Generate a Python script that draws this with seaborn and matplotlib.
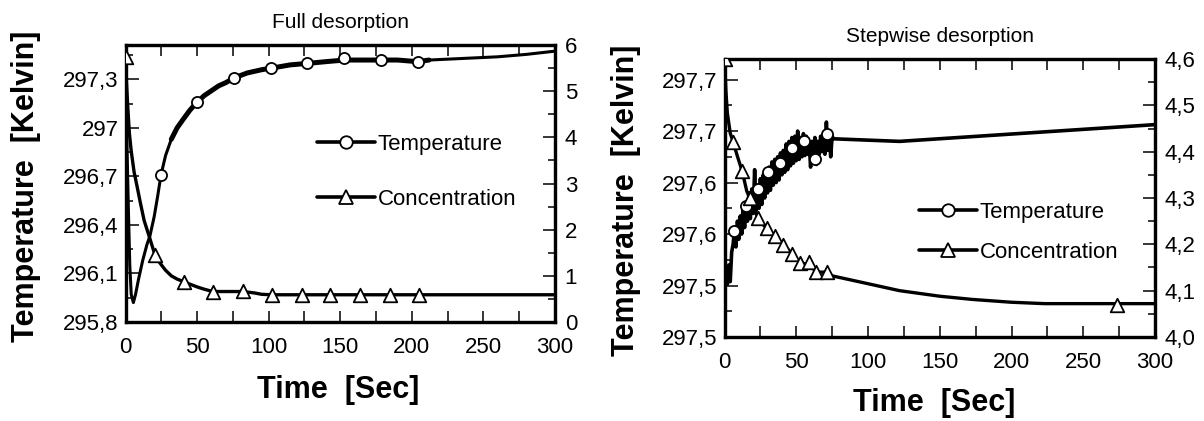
import matplotlib
matplotlib.use("Agg")
import matplotlib.pyplot as plt
from matplotlib.lines import Line2D
from matplotlib.ticker import MultipleLocator, FixedLocator
import seaborn as sns

# ---- Full desorption ----
full_t = [0, 1, 2, 3, 4, 5.5, 7, 9, 12, 15, 17, 20, 22.5, 24.8, 28, 32, 36, 40, 45, 50,
          55, 60, 65, 70, 76, 85, 95, 102, 115, 128, 140, 153, 165, 179, 190, 204, 212,
          260, 280, 300]
full_temp = [297.2, 296.9, 296.5, 296.15, 295.97, 295.92, 295.97, 296.06, 296.18, 296.28,
             296.33, 296.45, 296.58, 296.71, 296.83, 296.93, 297.0, 297.05, 297.11, 297.16,
             297.2, 297.23, 297.26, 297.28, 297.31, 297.34, 297.36, 297.37, 297.39, 297.40,
             297.41, 297.42, 297.42, 297.42, 297.42, 297.41, 297.42,
             297.44, 297.455, 297.475]
full_conc_t = [0, 0.5, 1.5, 2.7, 4, 6, 8, 10, 13, 17, 20.6, 24, 28, 32, 36, 41, 45, 50, 55,
               61, 70, 82, 90, 95, 102, 300]
full_conc = [5.72, 5.3, 4.7, 4.09, 3.7, 3.25, 2.95, 2.64, 2.2, 1.81, 1.45, 1.28, 1.12, 1.0,
             0.93, 0.87, 0.82, 0.76, 0.71, 0.66, 0.66, 0.66, 0.63, 0.6, 0.59, 0.59]
full_temp_mark_t = [24.8, 49.6, 75.8, 101.8, 127, 152.7, 178.7, 204.4]
full_temp_mark = [296.71, 297.16, 297.31, 297.37, 297.40, 297.43, 297.42, 297.41]
full_conc_mark_t = [0, 20.6, 41, 61, 82, 102, 123, 143, 164, 185, 205]
full_conc_mark = [5.74, 1.45, 0.87, 0.66, 0.67, 0.58, 0.58, 0.58, 0.58, 0.58, 0.58]
full_ticks = [295.8, 296.1, 296.4, 296.7, 297.0, 297.3]
full_ticklabels = ["295,8", "296,1", "296,4", "296,7", "297", "297,3"]

# ---- Stepwise desorption ----
step_t = list(range(0, 77)) + [122, 300]
step_temp = [297.560, 297.548, 297.541, 297.556, 297.543, 297.566, 297.572, 297.584,
             297.570, 297.590, 297.576, 297.594, 297.580, 297.603, 297.585, 297.604,
             297.590, 297.612, 297.592, 297.615, 297.596, 297.630, 297.598, 297.618,
             297.600, 297.623, 297.603, 297.626, 297.608, 297.630, 297.612, 297.632,
             297.614, 297.636, 297.618, 297.638, 297.620, 297.640, 297.622, 297.643,
             297.626, 297.645, 297.628, 297.650, 297.630, 297.652, 297.633, 297.655,
             297.635, 297.656, 297.637, 297.660, 297.638, 297.655, 297.640, 297.658,
             297.641, 297.656, 297.642, 297.650, 297.632, 297.652, 297.640, 297.655,
             297.634, 297.652, 297.642, 297.656, 297.644, 297.658, 297.642, 297.667,
             297.645, 297.658, 297.640, 297.656, 297.654,
             297.652, 297.665]
step_conc_t = [0, 1, 2, 4, 6.1, 9, 12.3, 15.5, 17.6, 20, 23, 26, 29.4, 32, 35.5, 38, 40.9,
               44, 46.8, 50, 52.4, 55, 58.8, 61, 64.1, 68, 71.6, 75, 100, 122, 150, 173,
               200, 223, 300]
step_conc = [4.6, 4.53, 4.483, 4.44, 4.42, 4.39, 4.358, 4.315, 4.30, 4.28, 4.259, 4.245,
             4.235, 4.225, 4.217, 4.208, 4.199, 4.19, 4.18, 4.17, 4.16, 4.158, 4.158, 4.15,
             4.14, 4.14, 4.14, 4.132, 4.115, 4.10, 4.088, 4.081, 4.075, 4.072, 4.072]
step_temp_mark_t = [6.9, 15.3, 23, 30.6, 38.7, 46.8, 55.5, 63.3, 71.4]
step_temp_mark = [297.582, 297.602, 297.615, 297.628, 297.635, 297.647, 297.652, 297.638,
                  297.658]
step_conc_mark_t = [0, 6.1, 12.3, 17.8, 23.3, 29.4, 35.5, 40.9, 46.8, 52.4, 58.8, 64.1,
                    71.6, 273.3]
step_conc_mark = [4.6, 4.42, 4.358, 4.30, 4.257, 4.235, 4.217, 4.199, 4.18, 4.16, 4.161,
                  4.14, 4.14, 4.07]
step_ticks = [297.50, 297.54, 297.58, 297.62, 297.66, 297.70]
step_ticklabels = ["297,5", "297,5", "297,6", "297,6", "297,7", "297,7"]
conc_ticks = [4.0, 4.1, 4.2, 4.3, 4.4, 4.5, 4.6]
conc_ticklabels = ["4,0", "4,1", "4,2", "4,3", "4,4", "4,5", "4,6"]

sns.set_theme(style="ticks")
plt.rcParams["font.family"] = ["Liberation Sans", "DejaVu Sans"]
plt.rcParams["text.color"] = "black"
plt.rcParams["axes.labelcolor"] = "black"
plt.rcParams["xtick.color"] = "black"
plt.rcParams["ytick.color"] = "black"

fig = plt.figure(figsize=(12.04, 4.21), dpi=100)
ax_a = fig.add_axes([125.5 / 1204, 1 - 322 / 421, 429.5 / 1204, 277 / 421])
ax_b = fig.add_axes([724.5 / 1204, 1 - 337 / 421, 430.5 / 1204, 278 / 421])

TICK = 16


def style_axes(ax, ax2):
    for a in (ax, ax2):
        for s in a.spines.values():
            s.set_linewidth(2.3)
            s.set_color("black")
    ax.set_xlim(0, 300)
    ax.xaxis.set_major_locator(MultipleLocator(50))
    ax.xaxis.set_minor_locator(MultipleLocator(25))
    ax.tick_params(axis="x", which="both", direction="in", top=True, length=8, width=1.1,
                   labelsize=TICK, pad=11, color="black", labelcolor="black")
    ax.tick_params(axis="y", which="major", direction="in", length=9, width=1.1,
                   labelsize=TICK, pad=5, color="black", labelcolor="black")
    ax.tick_params(axis="y", which="minor", direction="in", length=5, width=1.1,
                   color="black")
    ax2.tick_params(axis="y", which="major", direction="in", length=9, width=1.1,
                    labelsize=TICK, pad=7, color="black", labelcolor="black")
    ax2.tick_params(axis="y", which="minor", direction="in", length=5, width=1.1,
                    color="black")
    ax.set_xlabel("Time  [Sec]", fontsize=22, fontweight="bold", color="black")
    ax.set_ylabel("Temperature  [Kelvin]", fontsize=22, fontweight="bold", color="black")
    ax.xaxis.label.set_va("center")
    ax.yaxis.label.set_va("center")
    ax2.set_ylabel("")
    ax.set_facecolor("white")


def draw_legend(ax, x, y, spacing):
    handles = [
        Line2D([], [], color="black", lw=2.6, marker="o", ms=9, mfc="white",
               mec="black", mew=1.3),
        Line2D([], [], color="black", lw=2.6, marker="^", ms=10, mfc="white",
               mec="black", mew=1.3),
    ]
    ax.legend(handles, ["Temperature", "Concentration"], loc="center left",
              bbox_to_anchor=(x, y), frameon=False, fontsize=16, handlelength=2.6,
              handletextpad=0.12, labelspacing=spacing, borderpad=0, borderaxespad=0,
              labelcolor="black")


# ---- left panel ----
ax_a2 = ax_a.twinx()
sns.lineplot(x=full_t, y=full_temp, ax=ax_a, color="black", lw=2.2, estimator=None,
             sort=False)
noisy = [(t, v) for t, v in zip(full_t, full_temp) if 30 <= t <= 212]
sns.lineplot(x=[p[0] for p in noisy], y=[p[1] for p in noisy], ax=ax_a, color="black",
             lw=3.6, estimator=None, sort=False)
sns.scatterplot(x=full_temp_mark_t, y=full_temp_mark, ax=ax_a, marker="o", s=64,
                color="white", edgecolor="black", linewidth=1.3, zorder=5)
sns.lineplot(x=full_conc_t, y=full_conc, ax=ax_a2, color="black", lw=2.4, estimator=None,
             sort=False)
sns.scatterplot(x=full_conc_mark_t, y=full_conc_mark, ax=ax_a2, marker="^", s=95,
                color="white", edgecolor="black", linewidth=1.3, zorder=5)

ax_a.set_ylim(295.8, 297.513)
ax_a.yaxis.set_major_locator(FixedLocator(full_ticks))
ax_a.set_yticklabels(full_ticklabels)
ax_a.yaxis.set_minor_locator(MultipleLocator(0.15))
ax_a2.set_ylim(0, 6)
ax_a2.yaxis.set_major_locator(MultipleLocator(1))
ax_a2.yaxis.set_minor_locator(MultipleLocator(0.5))
style_axes(ax_a, ax_a2)
ax_a.set_title("Full desorption", fontsize=15, pad=12, color="black")
ax_a.xaxis.set_label_coords(0.495, -0.245)
ax_a.yaxis.set_label_coords(-0.232, 0.491)
draw_legend(ax_a2, 0.446, 0.5415, 1.55)

# ---- right panel ----
ax_b2 = ax_b.twinx()
sns.lineplot(x=step_t, y=step_temp, ax=ax_b, color="black", lw=2.6, estimator=None,
             sort=False)
sns.scatterplot(x=step_temp_mark_t, y=step_temp_mark, ax=ax_b, marker="o", s=64,
                color="white", edgecolor="black", linewidth=1.3, zorder=5)
sns.lineplot(x=step_conc_t, y=step_conc, ax=ax_b2, color="black", lw=2.4, estimator=None,
             sort=False)
sns.scatterplot(x=step_conc_mark_t, y=step_conc_mark, ax=ax_b2, marker="^", s=95,
                color="white", edgecolor="black", linewidth=1.3, zorder=5)

ax_b.set_ylim(297.50, 297.716)
ax_b.yaxis.set_major_locator(FixedLocator(step_ticks))
ax_b.set_yticklabels(step_ticklabels)
ax_b.yaxis.set_minor_locator(MultipleLocator(0.02))
ax_b2.set_ylim(4.0, 4.6)
ax_b2.yaxis.set_major_locator(FixedLocator(conc_ticks))
ax_b2.set_yticklabels(conc_ticklabels)
ax_b2.yaxis.set_minor_locator(MultipleLocator(0.05))
style_axes(ax_b, ax_b2)
ax_b.set_title("Stepwise desorption", fontsize=15, pad=12, color="black")
ax_b.xaxis.set_label_coords(0.488, -0.238)
ax_b.yaxis.set_label_coords(-0.229, 0.493)
draw_legend(ax_b2, 0.452, 0.376, 0.85)

fig.savefig("out.png", dpi=100, facecolor="white")
